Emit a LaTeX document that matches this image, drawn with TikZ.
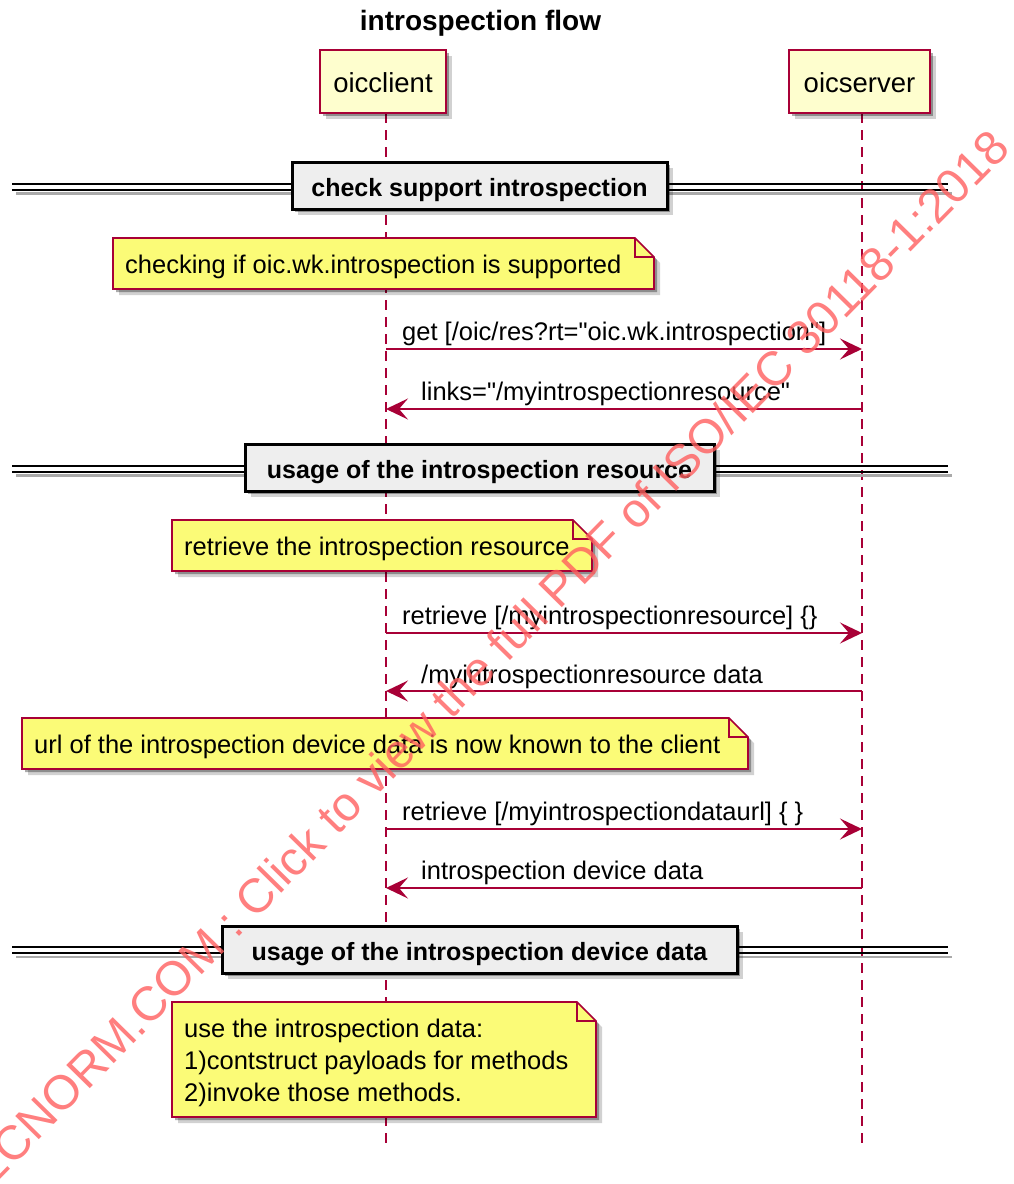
\documentclass[tikz,border=0pt]{standalone}
\usepackage{fontspec}
\setmainfont{Liberation Sans}
\newfontfamily\plainsans{Liberation Sans}
\usetikzlibrary{arrows.meta,shadows}
\definecolor{pred}{HTML}{A80036}
\definecolor{pfill}{HTML}{FEFECE}
\definecolor{nfill}{HTML}{FBFB77}
\definecolor{dfill}{HTML}{EEEEEE}
\definecolor{wmark}{RGB}{255,95,95}
\definecolor{shgray}{RGB}{170,170,170}
\tikzset{
  shad/.style={drop shadow={shadow xshift=3pt,shadow yshift=-3pt,opacity=.33,fill=black},
               drop shadow={shadow xshift=6pt,shadow yshift=-6pt,opacity=.18,fill=black}},
  participant/.style={draw=pred, line width=1.8pt, fill=pfill, shad, inner sep=0,
    text height=21pt, text depth=0pt, font=\plainsans\fontsize{27.5}{33}\selectfont},
  lifeline/.style={draw=pred, line width=1.6pt, dash pattern=on 10pt off 7pt},
  msg/.style={draw=pred, line width=1.8pt, -{Stealth[length=22pt,width=21pt,inset=9pt]}},
  lbl/.style={anchor=base west, inner sep=0, font=\plainsans\fontsize{25.5}{32}\selectfont},
  notebody/.style={draw=pred, line width=1.6pt, fill=nfill, shad},
  notefold/.style={draw=pred, line width=1.6pt},
  divbox/.style={draw=black, line width=3pt, fill=dfill, shad, inner sep=0,
    text height=21pt, text depth=0pt, font=\plainsans\bfseries\fontsize{25}{30}\selectfont},
  divline/.style={draw=black, line width=2pt},
  divshadow/.style={draw=shgray, line width=2.5pt},
}
\newcommand\mynote[4]{% x1 y1 x2 y2
  \path[notebody] (#1,#2) -- ({#3-19},#2) -- (#3,{#2+19}) -- (#3,#4) -- (#1,#4) -- cycle;
  \draw[notefold] ({#3-19},#2) -- ({#3-19},{#2+19}) -- (#3,{#2+19});
}
\newcommand\mydivider[2]{% name, y
  \coordinate (#1l) at (12,#2);
  \coordinate (#1r) at (948,#2);
  \draw[divshadow] ([xshift=4pt,yshift=-7pt]#1l) -- ([xshift=4pt,yshift=-7pt]#1r);
  \draw[divline] ([yshift=3pt]#1l) -- ([yshift=3pt]#1r);
  \draw[divline] ([yshift=-3pt]#1l) -- ([yshift=-3pt]#1r);
}
\begin{document}
\begin{tikzpicture}[x=1pt,y=-1pt]
\useasboundingbox (0,0) rectangle (1014,1184);
\fill[white] (0,0) rectangle (1014,1184);

% title
\node[anchor=base, inner sep=0, font=\plainsans\bfseries\fontsize{28}{33}\selectfont] (title) at (480.5,30) {introspection flow};

% lifelines
\coordinate (cl0) at (386,113);
\coordinate (cl1) at (386,1150);
\coordinate (sl0) at (862,113);
\coordinate (sl1) at (862,1150);
\draw[lifeline] (cl0) -- (cl1);
\draw[lifeline] (sl0) -- (sl1);

% participants
\node[participant, minimum width=126pt, minimum height=63pt] (client) at (383,81.5) {oicclient};
\node[participant, minimum width=141pt, minimum height=63pt] (server) at (859.5,81.5) {oicserver};

% divider 1
\mydivider{da}{186.5}
\node[divbox, minimum width=375pt, minimum height=47pt] (div1) at (479.5,185.5) {check support introspection};

% note 1
\mynote{113}{238}{654}{289}
\node[lbl] (note1) at (125,273) {checking if oic.wk.introspection is supported};

% messages 1-2
\coordinate (c1) at (386,349); \coordinate (s1) at (862,349);
\coordinate (c2) at (386,409); \coordinate (s2) at (862,409);
\draw[msg] (c1) -- (s1);
\node[lbl] (m1) at (402,340) {get [/oic/res?rt="oic.wk.introspection"]};
\draw[msg] (s2) -- (c2);
\node[lbl] (m2) at (421,400) {links="/myintrospectionresource"};

% divider 2
\mydivider{db}{468.5}
\node[divbox, minimum width=469pt, minimum height=47pt] (div2) at (479.5,467.5) {usage of the introspection resource};

% note 2
\mynote{172}{520}{592}{571}
\node[lbl] (note2) at (184,555) {retrieve the introspection resource};

% messages 3-4
\coordinate (c3) at (386,633); \coordinate (s3) at (862,633);
\coordinate (c4) at (386,691); \coordinate (s4) at (862,691);
\draw[msg] (c3) -- (s3);
\node[lbl] (m3) at (402,624) {retrieve [/myintrospectionresource] \{\}};
\draw[msg] (s4) -- (c4);
\node[lbl] (m4) at (421,683) {/myintrospectionresource data};

% note 3
\mynote{22}{718}{748}{769}
\node[lbl] (note3) at (34,753) {url of the introspection device data is now known to the client};

% messages 5-6
\coordinate (c5) at (386,829); \coordinate (s5) at (862,829);
\coordinate (c6) at (386,888); \coordinate (s6) at (862,888);
\draw[msg] (c5) -- (s5);
\node[lbl] (m5) at (402,820) {retrieve [/myintrospectiondataurl] \{ \}};
\draw[msg] (s6) -- (c6);
\node[lbl] (m6) at (421,879) {introspection device data};

% divider 3
\mydivider{dc}{950}
\node[divbox, minimum width=515pt, minimum height=47pt] (div3) at (479.5,949.5) {usage of the introspection device data};

% note 4
\mynote{172}{1002}{596}{1117}
\node[lbl] (note4) at (184,1037) {\begin{tabular}[t]{@{}l@{}}use the introspection data:\\1)contstruct payloads for methods\\2)invoke those methods.\end{tabular}};

% watermark
\begin{scope}
\clip (0,0) rectangle (1014,1184);
\node[anchor=base east, inner sep=0, rotate=45.5, text=wmark, opacity=.8,
      font=\plainsans\fontsize{48}{48}\selectfont] (wm) at (1012,150)
  {IECNORM.COM : Click to view the full PDF of ISO/IEC 30118-1:2018};
\end{scope}
\end{tikzpicture}
\end{document}
